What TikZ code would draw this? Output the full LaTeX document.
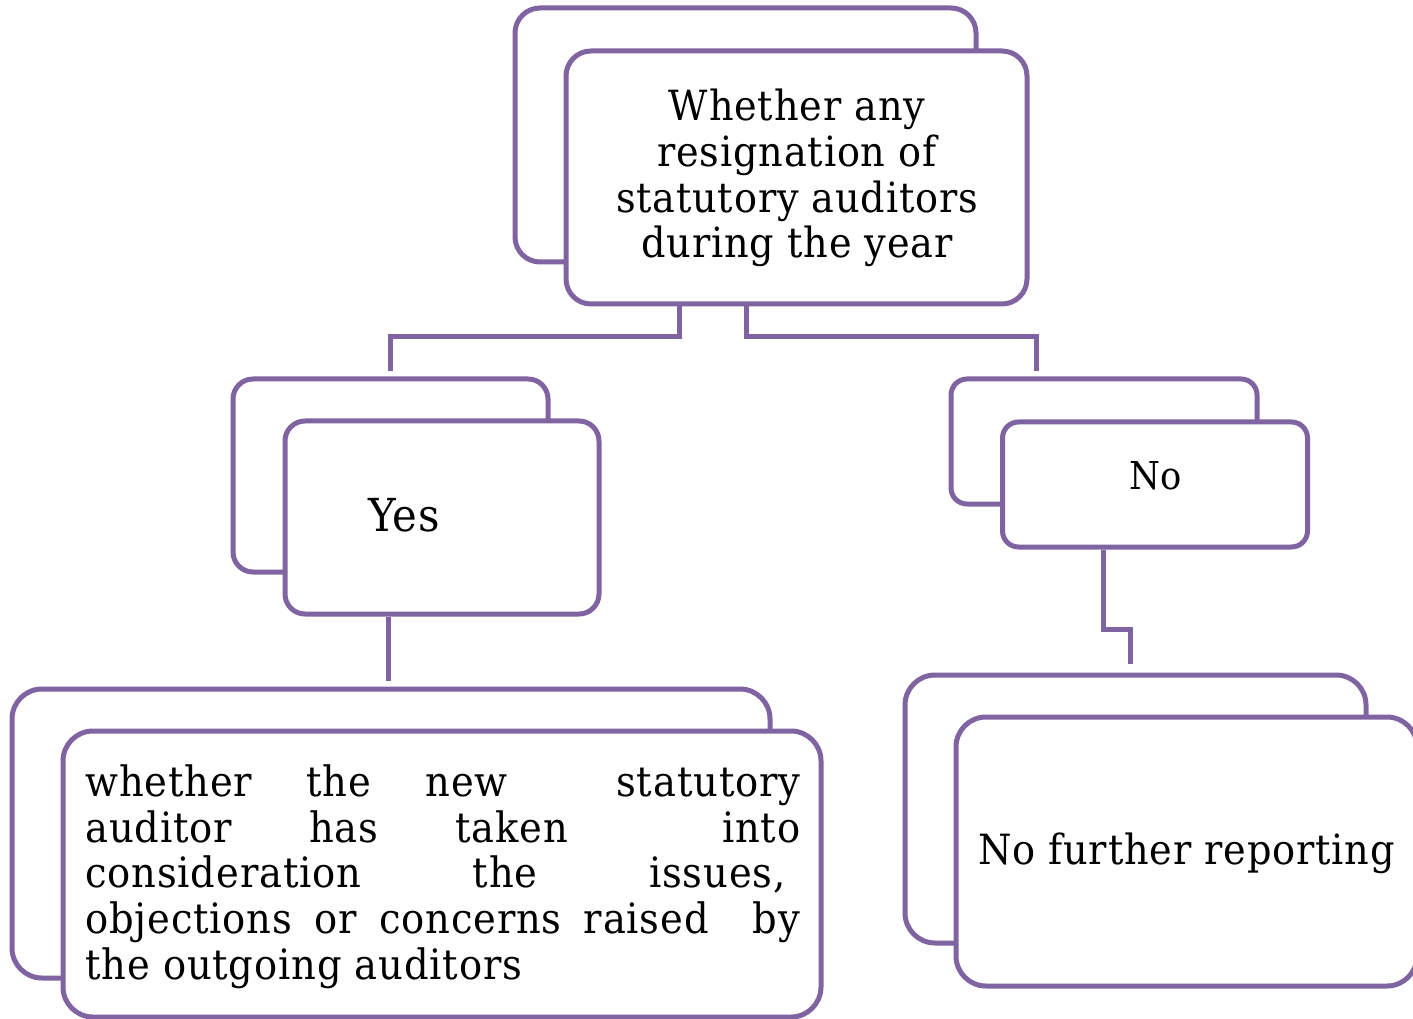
\documentclass[tikz,border=0pt]{standalone}
\usepackage{fontspec}
\setmainfont{DejaVu Serif}[FakeStretch=0.92, LetterSpace=2]
\definecolor{pur}{HTML}{8064A2}
\newlength\fitlen
\newcommand\fitsize[3]{%
  \settowidth\fitlen{\fontsize{10pt}{12pt}\selectfont #3}%
  \pgfmathsetmacro#1{10*#2/\fitlen}}
\begin{document}%
\fitsize{\fsTop}{271.5}{statutory auditors}%
\fitsize{\fsYes}{54}{Yes}%
\fitsize{\fsNo}{39.75}{No}%
\fitsize{\fsBR}{312.75}{No further reporting}%
\fitsize{\fsBL}{327.75}{the outgoing auditors}%
\begin{tikzpicture}[x=0.75pt,y=-0.75pt,
  box/.style={draw=pur, line width=3.75pt, fill=white, rounded corners=#1, inner sep=0pt, rectangle},
  conn/.style={draw=pur, line width=3.75pt, line join=miter},
  lbl/.style={inner sep=0pt, text=black}]
\tikzset{
  fTop/.style={lbl, font=\fontsize{\fsTop pt}{\fsTop pt}\selectfont},
  fYes/.style={lbl, font=\fontsize{\fsYes pt}{\fsYes pt}\selectfont},
  fNo/.style={lbl, font=\fontsize{\fsNo pt}{\fsNo pt}\selectfont},
  fBR/.style={lbl, font=\fontsize{\fsBR pt}{\fsBR pt}\selectfont},
  fBL/.style={lbl, font=\fontsize{\fsBL pt}{\fsBL pt}\selectfont}}
\useasboundingbox (0,0) rectangle (1413,1019);

% top group
\node[box=18.75pt, minimum width=345.75pt, minimum height=190.5pt] (topB) at (745.5,135) {};
\node[box=18.75pt, minimum width=345.75pt, minimum height=189.75pt] (topF) at (796.5,177.5) {};
\node[fTop, anchor=base] (t1) at (797,120.7) {Whether any};
\node[fTop, anchor=base] (t2) at (797,166.5) {resignation of};
\node[fTop, anchor=base] (t3) at (797,212.3) {statutory auditors};
\node[fTop, anchor=base] (t4) at (797,258) {during the year};

% yes group
\node[box=15pt, minimum width=236.25pt, minimum height=144.75pt] (yesB) at (390.5,475.5) {};
\node[box=15pt, minimum width=235.5pt, minimum height=144.75pt] (yesF) at (442,517.5) {};
\node[fYes, anchor=base] (yesT) at (404,531) {Yes};

% no group
\node[box=12pt, minimum width=229.5pt, minimum height=93.75pt] (noB) at (1104,441.5) {};
\node[box=12pt, minimum width=228.75pt, minimum height=93.75pt] (noF) at (1155,484.5) {};
\node[fNo, anchor=base] (noT) at (1155.5,489) {No};

% bottom-left group
\node[box=22.5pt, minimum width=568.5pt, minimum height=216.75pt] (blB) at (391,833.5) {};
\node[box=22.5pt, minimum width=568.5pt, minimum height=214.5pt] (blF) at (442,874) {};
\node[fBL, anchor=base west] (b1) at (85,796) {\hbox to 536.25pt{whether\hfill the\hfill new\hfill\hfill statutory}};
\node[fBL, anchor=base west] (b2) at (85,842) {\hbox to 536.25pt{auditor\hfill has\hfill taken\hfill\hfill into}};
\node[fBL, anchor=base west] (b3) at (85,887.5) {\hbox to 536.25pt{consideration\hfill the\hfill issues,\hspace*{11pt}}};
\node[fBL, anchor=base west] (b4) at (85,933) {\hbox to 536.25pt{objections\hfill or\hfill concerns\hfill raised\hfill\hfill by}};
\node[fBL, anchor=base west] (b5) at (85,979) {the outgoing auditors};

% bottom-right group
\node[box=22.5pt, minimum width=345.75pt, minimum height=201pt] (brB) at (1135.5,809) {};
\node[box=22.5pt, minimum width=345.75pt, minimum height=201.75pt] (brF) at (1186.5,851.5) {};
\node[fBR, anchor=base] (brT) at (1186.5,864) {No further reporting};

% connectors
\coordinate (j1) at (679,337);
\coordinate (yesEnd) at (390,371);
\coordinate (j2) at (746,337);
\coordinate (noEnd) at (1036,371);
\coordinate (blEnd) at (388,681);
\coordinate (j4) at (1103,629);
\coordinate (brEnd) at (1130,664);
\draw[conn] (topF.south -| j1) -- (j1) -| (yesEnd);
\draw[conn] (topF.south -| j2) -- (j2) -| (noEnd);
\draw[conn] (yesF.south -| blEnd) -- (blEnd);
\draw[conn] (noF.south -| j4) -- (j4) -| (brEnd);
\end{tikzpicture}%
\end{document}
